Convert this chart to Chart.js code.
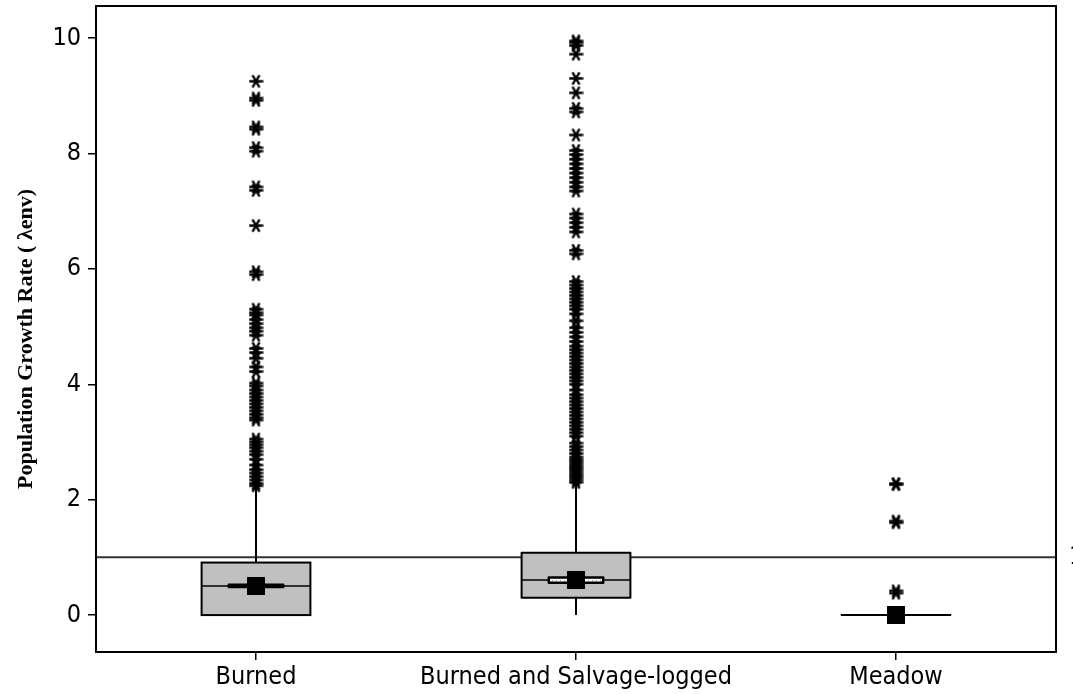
<!DOCTYPE html>
<html>
<head>
<meta charset="utf-8">
<script src="https://cdn.jsdelivr.net/npm/chart.js@4/dist/chart.umd.min.js"></script>
<style>
  html, body { margin: 0; padding: 0; background: #fff; }
  #wrap { width: 1073px; height: 694px; }
</style>
</head>
<body>
<div id="wrap"><canvas id="chart" width="1073" height="694"></canvas></div>
<script>
// Habitat groups
const categories = ['Burned', 'Burned and Salvage-logged', 'Meadow'];

// Box summary per group
const q1Values = [0, 0.30, 0];
const medianValues = [0.505, 0.607, 0];
const q3Values = [0.91, 1.08, 0];
const whiskerLow = [0, 0, 0];
const whiskerHigh = [2.22, 2.28, 0];
const medianCiLow = [0.485, 0.56, 0];
const medianCiHigh = [0.525, 0.65, 0];
const meanValues = [0.505, 0.607, 0];

// Outlying simulated growth rates per group
const burnedOutliers = [9.25, 8.96, 8.92, 8.46, 8.42, 8.1, 8.04, 7.42, 7.36, 6.75, 5.95, 5.9,
  5.3, 5.24, 5.2, 5.12, 5.05, 4.98, 4.92, 4.85, 4.62, 4.55, 4.45, 4.3, 4.22, 4.02, 3.97,
  3.9, 3.84, 3.78, 3.72, 3.66, 3.6, 3.54, 3.48, 3.42, 3.38, 3.05, 3.0, 2.95, 2.9, 2.84,
  2.78, 2.7, 2.6, 2.52, 2.46, 2.4, 2.34, 2.28, 2.24];
const salvageOutliers = [9.95, 9.92, 9.87, 9.72, 9.3, 9.05, 8.78, 8.72, 8.32, 8.05, 7.98,
  7.9, 7.82, 7.74, 7.66, 7.58, 7.5, 7.42, 7.35, 6.95, 6.88, 6.8, 6.72, 6.64, 6.32, 6.26,
  5.78, 5.72, 5.66, 5.6, 5.54, 5.48, 5.42, 5.36, 5.3, 5.22, 5.1, 4.98, 4.9, 4.82, 4.74,
  4.66, 4.6, 4.54, 4.48, 4.42, 4.36, 4.3, 4.24, 4.18, 4.12, 4.06, 4.0, 3.9, 3.82, 3.76,
  3.7, 3.64, 3.58, 3.52, 3.46, 3.4, 3.34, 3.28, 3.22, 3.16, 3.1, 2.98, 2.92, 2.86, 2.8,
  2.74, 2.7, 2.66, 2.62, 2.58, 2.54, 2.5, 2.46, 2.42, 2.38, 2.34, 2.3];
const meadowOutliers = [2.28, 2.26, 1.63, 1.6, 0.42, 0.38];

// Reference level (stable population) and y tick labels
const referenceValue = 1;
const yTickValues = [0, 2, 4, 6, 8, 10];
const yTickLabels = ['0', '2', '4', '6', '8', '10'];
const yAxisTitle = 'Population Growth Rate ( λenv)';

const labelFont = '"DejaVu Sans Condensed", "DejaVu Sans", sans-serif';

// Asterisk marker used for outliers
function makeAsterisk(size) {
  const c = document.createElement('canvas');
  c.width = size; c.height = size;
  const g = c.getContext('2d');
  g.strokeStyle = '#000';
  g.lineWidth = 2.3;
  g.lineCap = 'butt';
  const m = size / 2, r = size / 2 - 0.5;
  g.beginPath();
  g.moveTo(m - r, m); g.lineTo(m + r, m);
  const a = Math.PI / 3;
  g.moveTo(m - r * Math.cos(a), m - r * Math.sin(a));
  g.lineTo(m + r * Math.cos(a), m + r * Math.sin(a));
  g.moveTo(m + r * Math.cos(a), m - r * Math.sin(a));
  g.lineTo(m - r * Math.cos(a), m + r * Math.sin(a));
  g.stroke();
  return c;
}
const asterisk = makeAsterisk(15);

// Solid square marker for group means
function makeSquare(size) {
  const c = document.createElement('canvas');
  c.width = size; c.height = size;
  const g = c.getContext('2d');
  g.fillStyle = '#000';
  g.fillRect(0, 0, size, size);
  return c;
}
const meanSquare = makeSquare(18);

// Speckled fill for the median interval box
function makeSpeckle() {
  const c = document.createElement('canvas');
  c.width = 4; c.height = 4;
  const g = c.getContext('2d');
  g.fillStyle = '#fff'; g.fillRect(0, 0, 4, 4);
  g.fillStyle = '#9a9a9a';
  g.fillRect(0, 0, 1, 1); g.fillRect(2, 2, 1, 1);
  return c;
}

const outlierPoints = [];
[burnedOutliers, salvageOutliers, meadowOutliers].forEach((arr, i) => {
  arr.forEach(v => outlierPoints.push({ x: categories[i], y: v }));
});

const boxPlugin = {
  id: 'boxes',
  beforeDatasetsDraw(chart) {
    const { ctx, chartArea: a, scales: { x, y } } = chart;
    const catW = x.getPixelForValue(1) - x.getPixelForValue(0);
    const boxW = catW * 0.34;
    const speckle = ctx.createPattern(makeSpeckle(), 'repeat');
    ctx.save();
    // reference line
    const yr = y.getPixelForValue(referenceValue);
    ctx.strokeStyle = '#333';
    ctx.lineWidth = 2;
    ctx.beginPath();
    ctx.moveTo(a.left, yr); ctx.lineTo(a.right, yr);
    ctx.stroke();

    categories.forEach((cat, i) => {
      const cx = x.getPixelForValue(i);
      const yq1 = y.getPixelForValue(q1Values[i]);
      const yq3 = y.getPixelForValue(q3Values[i]);
      const ymed = y.getPixelForValue(medianValues[i]);
      // whiskers
      ctx.strokeStyle = '#000';
      ctx.lineWidth = 2;
      ctx.beginPath();
      ctx.moveTo(cx, yq3); ctx.lineTo(cx, y.getPixelForValue(whiskerHigh[i]));
      ctx.moveTo(cx, yq1); ctx.lineTo(cx, y.getPixelForValue(whiskerLow[i]));
      ctx.stroke();
      // box
      ctx.fillStyle = '#c0c0c0';
      ctx.fillRect(cx - boxW / 2, yq3, boxW, yq1 - yq3);
      ctx.strokeRect(cx - boxW / 2, yq3, boxW, yq1 - yq3);
      // median
      ctx.lineWidth = 1.5;
      ctx.beginPath();
      ctx.moveTo(cx - boxW / 2, ymed); ctx.lineTo(cx + boxW / 2, ymed);
      ctx.stroke();
      // median confidence interval
      if (medianCiHigh[i] > medianCiLow[i]) {
        const yl = y.getPixelForValue(medianCiLow[i]);
        const yh = y.getPixelForValue(medianCiHigh[i]);
        ctx.fillStyle = speckle;
        ctx.fillRect(cx - boxW / 4, yh, boxW / 2, yl - yh);
        ctx.lineWidth = 2.5;
        ctx.lineJoin = 'round';
        ctx.strokeRect(cx - boxW / 4, yh, boxW / 2, yl - yh);
      }
    });
    ctx.restore();
  },
  afterDatasetsDraw(chart) {
    const { ctx, chartArea: a, scales: { y } } = chart;
    ctx.save();
    ctx.strokeStyle = '#000';
    ctx.lineWidth = 2;
    ctx.strokeRect(a.left, a.top, a.right - a.left, a.bottom - a.top);
    // reference level label at right margin
    ctx.fillStyle = '#000';
    ctx.font = '25px ' + labelFont;
    ctx.textBaseline = 'middle';
    ctx.textAlign = 'left';
    ctx.fillText(String(referenceValue), a.right + 13, y.getPixelForValue(referenceValue));
    // y axis title
    ctx.translate(26, (a.top + a.bottom) / 2 + 10);
    ctx.rotate(-Math.PI / 2);
    ctx.textAlign = 'center';
    ctx.font = 'bold 22px "Liberation Serif"';
    ctx.fillText(yAxisTitle, 0, 0);
    ctx.restore();
  }
};

new Chart(document.getElementById('chart'), {
  type: 'line',
  data: {
    labels: categories,
    datasets: [
      {
        label: 'Mean',
        data: meanValues,
        showLine: false,
        pointStyle: meanSquare,
        pointRadius: 1,
        pointHoverRadius: 1,
        borderWidth: 0
      },
      {
        label: 'Outliers',
        data: outlierPoints,
        showLine: false,
        pointStyle: asterisk,
        pointRadius: 1,
        pointHoverRadius: 1,
        borderWidth: 0
      }
    ]
  },
  options: {
    responsive: false,
    animation: false,
    events: [],
    layout: { padding: { top: 6, right: 17, left: 0, bottom: 0 } },
    plugins: { legend: { display: false }, tooltip: { enabled: false } },
    scales: {
      x: {
        type: 'category',
        offset: true,
        afterFit(s) { s.height = 42; s.paddingLeft = 0; s.paddingRight = 0; },
        border: { display: false },
        grid: { display: true, drawOnChartArea: false, drawTicks: true, tickLength: 8, color: '#000', lineWidth: 1.5, offset: false },
        ticks: { color: '#000', font: { family: labelFont, size: 25 }, padding: 2, maxRotation: 0 }
      },
      y: {
        min: -0.64,
        max: 10.555,
        afterFit(s) { s.width = 96; s.paddingTop = 0; s.paddingBottom = 0; },
        afterBuildTicks(s) { s.ticks = yTickValues.map(v => ({ value: v })); },
        border: { display: false },
        grid: { display: true, drawOnChartArea: false, drawTicks: true, tickLength: 8, color: '#000', lineWidth: 1.5 },
        ticks: {
          color: '#000',
          font: { family: labelFont, size: 25 },
          padding: 7,
          callback: (v) => yTickLabels[yTickValues.indexOf(v)] ?? ''
        }
      }
    }
  },
  plugins: [boxPlugin]
});
</script>
</body>
</html>
